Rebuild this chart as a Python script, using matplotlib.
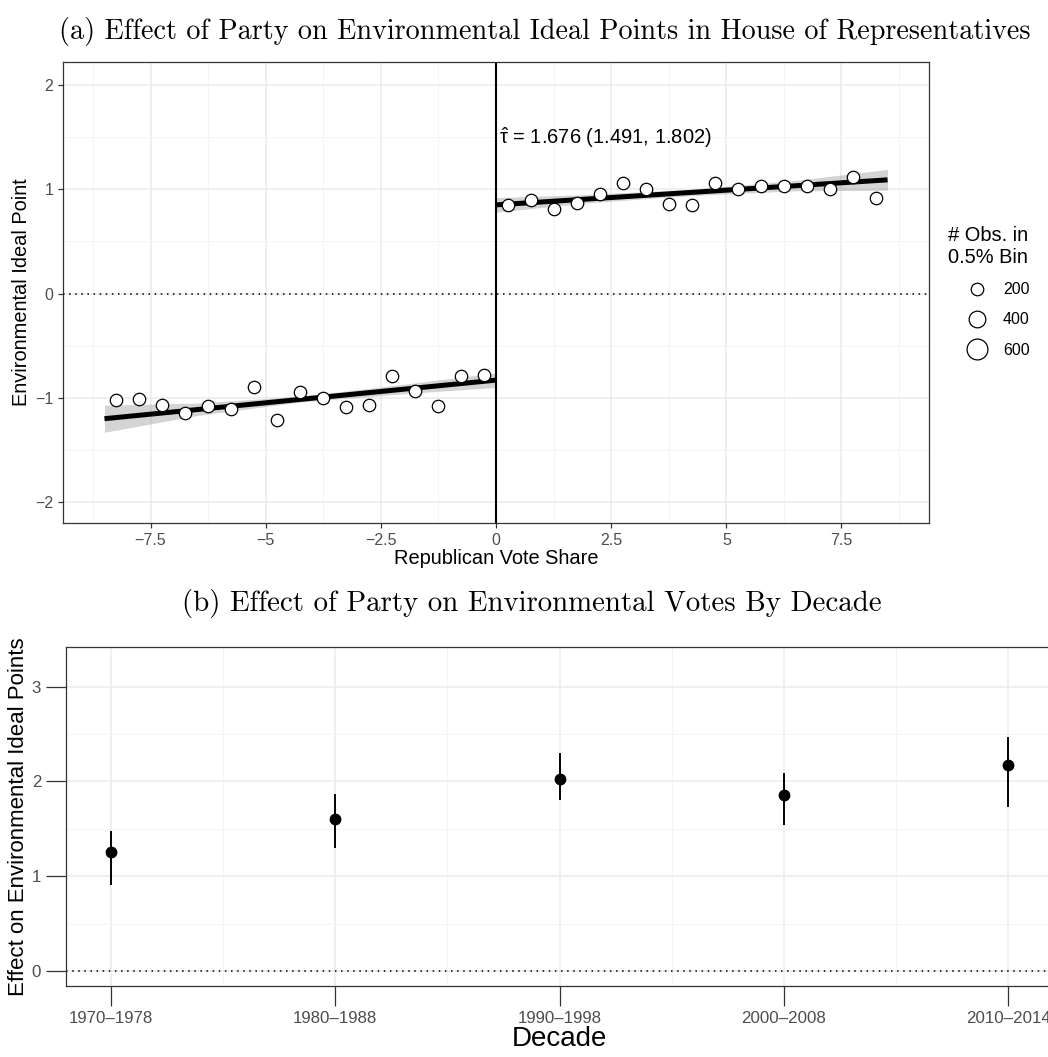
import numpy as np
import matplotlib
matplotlib.use("Agg")
import matplotlib.pyplot as plt
from matplotlib.lines import Line2D
from matplotlib.ticker import FixedLocator

plt.rcParams['font.family'] = ['Liberation Sans', 'DejaVu Sans']
plt.rcParams['mathtext.fontset'] = 'custom'
plt.rcParams['mathtext.rm'] = 'Liberation Sans'
plt.rcParams['mathtext.it'] = 'Liberation Sans'

# ---- panel (a): binned means of ideal points by vote-share bin ----
bins_dem = [-8.25, -7.75, -7.25, -6.75, -6.25, -5.75, -5.25, -4.75, -4.25,
            -3.75, -3.25, -2.75, -2.25, -1.75, -1.25, -0.75, -0.25]
means_dem = [-1.02, -1.01, -1.07, -1.15, -1.08, -1.11, -0.90, -1.21, -0.94,
             -1.00, -1.09, -1.07, -0.79, -0.93, -1.08, -0.79, -0.78]
bins_rep = [0.25, 0.75, 1.25, 1.75, 2.25, 2.75, 3.25, 3.75, 4.25,
            4.75, 5.25, 5.75, 6.25, 6.75, 7.25, 7.75, 8.25]
means_rep = [0.85, 0.90, 0.81, 0.87, 0.95, 1.06, 1.00, 0.86, 0.85,
             1.06, 1.00, 1.03, 1.03, 1.03, 1.00, 1.12, 0.92]

# local linear fits and confidence bands
fit_x_dem = [-8.5, 0.0]
fit_y_dem = [-1.20, -0.83]
fit_x_rep = [0.0, 8.5]
fit_y_rep = [0.85, 1.09]
band_x_dem = [-8.5, -6.5, -4.25, -2.0, 0.0]
band_lo_dem = [-1.33, -1.17, -1.04, -0.96, -0.90]
band_hi_dem = [-1.07, -1.05, -0.985, -0.87, -0.76]
band_x_rep = [0.0, 2.0, 4.25, 6.5, 8.5]
band_lo_rep = [0.78, 0.87, 0.94, 0.985, 0.99]
band_hi_rep = [0.92, 0.95, 1.00, 1.085, 1.19]

tau_label = r'$\hat{\tau}$ = 1.676 (1.491, 1.802)'
legend_counts = [200, 400, 600]
legend_ms = [9.0, 12.0, 15.0]

xticks_a = [-7.5, -5, -2.5, 0, 2.5, 5, 7.5]
xticklabels_a = ['\u22127.5', '\u22125', '\u22122.5', '0', '2.5', '5', '7.5']
yticks_a = [-2, -1, 0, 1, 2]
yticklabels_a = ['\u22122', '\u22121', '0', '1', '2']

# ---- panel (b): effect by decade ----
decade_pos = [1970, 1980, 1990, 2000, 2010]
decade_labels = ['1970\u20131978', '1980\u20131988', '1990\u20131998',
                 '2000\u20132008', '2010\u20132014']
effect = [1.25, 1.60, 2.03, 1.86, 2.17]
effect_lo = [0.91, 1.30, 1.80, 1.54, 1.73]
effect_hi = [1.48, 1.87, 2.30, 2.09, 2.47]

GRID = '#EBEBEB'
TICKC = '#4D4D4D'
BORDER = '#333333'

W, H = 1048, 1057
fig = plt.figure(figsize=(W / 100, H / 100), dpi=100)


def style_axes(ax, ticksize):
    for s in ax.spines.values():
        s.set_color(BORDER)
        s.set_linewidth(0.9)
    ax.set_axisbelow(True)
    ax.grid(True, which='major', color=GRID, linewidth=1.1)
    ax.grid(True, which='minor', color='#F3F3F3', linewidth=0.6)
    ax.tick_params(which='major', color=BORDER, length=3.6, width=0.9,
                   labelcolor=TICKC, labelsize=ticksize)
    ax.tick_params(which='minor', length=0)


# ----- top panel -----
ax1 = fig.add_axes([63 / W, 1 - 523 / H, (929 - 63) / W, (523 - 62) / H])
style_axes(ax1, 11.5)
ax1.fill_between(band_x_dem, band_lo_dem, band_hi_dem, color='#999999', alpha=0.42, lw=0)
ax1.fill_between(band_x_rep, band_lo_rep, band_hi_rep, color='#999999', alpha=0.42, lw=0)
ax1.axhline(0, color='black', linestyle=(0, (1, 3)), linewidth=1.1)
ax1.axvline(0, color='black', linewidth=1.5)
ax1.plot(fit_x_dem, fit_y_dem, color='black', linewidth=3.6, solid_capstyle='butt')
ax1.plot(fit_x_rep, fit_y_rep, color='black', linewidth=3.6, solid_capstyle='butt')
ax1.scatter(bins_dem, means_dem, s=80, facecolors='white', edgecolors='black',
            linewidths=0.9, zorder=3)
ax1.scatter(bins_rep, means_rep, s=80, facecolors='white', edgecolors='black',
            linewidths=0.9, zorder=3)
ax1.text(0.07, 1.49, tau_label, fontsize=14.5, ha='left', va='center')

ax1.set_xlim(-9.4, 9.4)
ax1.set_ylim(-2.2, 2.22)
ax1.set_xticks(xticks_a)
ax1.set_xticklabels(xticklabels_a)
ax1.set_yticks(yticks_a)
ax1.set_yticklabels(yticklabels_a)
ax1.xaxis.set_minor_locator(FixedLocator([-8.75, -6.25, -3.75, -1.25, 1.25, 3.75, 6.25, 8.75]))
ax1.yaxis.set_minor_locator(FixedLocator([-1.5, -0.5, 0.5, 1.5]))
ax1.set_xlabel('Republican Vote Share', fontsize=14.4, labelpad=1)
ax1.set_ylabel('Environmental Ideal Point', fontsize=14.4, labelpad=3)

handles = [Line2D([], [], linestyle='none', marker='o', markersize=ms,
                  markerfacecolor='white', markeredgecolor='black', markeredgewidth=0.9)
           for ms in legend_ms]
leg = fig.legend(handles, [str(c) for c in legend_counts], title='# Obs. in\n0.5% Bin',
                 loc='upper left', bbox_to_anchor=(940 / W, 1 - 218 / H),
                 frameon=False, fontsize=11.5, title_fontsize=14.4, alignment='left',
                 handletextpad=-0.15, labelspacing=0.95, borderpad=0, handlelength=3.6)

# ----- bottom panel -----
ax2 = fig.add_axes([66 / W, 1 - 986 / H, (1053 - 66) / W, (986 - 647) / H])
style_axes(ax2, 12.2)
ax2.axhline(0, color='black', linestyle=(0, (1, 3)), linewidth=1.1)
ax2.vlines(decade_pos, effect_lo, effect_hi, color='black', linewidth=1.4)
ax2.plot(decade_pos, effect, 'o', color='black', markersize=7.5, linestyle='none')
ax2.set_xlim(1968, 2012)
ax2.set_ylim(-0.16, 3.42)
ax2.set_xticks(decade_pos)
ax2.set_xticklabels(decade_labels)
ax2.set_yticks([0, 1, 2, 3])
ax2.xaxis.set_minor_locator(FixedLocator([1975, 1985, 1995, 2005]))
ax2.yaxis.set_minor_locator(FixedLocator([0.5, 1.5, 2.5]))
ax2.tick_params(which='major', length=14.4)
ax2.set_xlabel('Decade', fontsize=20, labelpad=0)
ax2.set_ylabel('Effect on Environmental Ideal Points', fontsize=16, labelpad=2)

# titles
fig.text(545 / W, 1 - 32 / H,
         '(a) Effect of Party on Environmental Ideal Points in House of Representatives',
         fontfamily='cmr10', fontsize=20.3, ha='center', va='center')
fig.text(532 / W, 1 - 604 / H,
         '(b) Effect of Party on Environmental Votes By Decade',
         fontfamily='cmr10', fontsize=20.8, ha='center', va='center')

fig.savefig('out.png', dpi=100)
